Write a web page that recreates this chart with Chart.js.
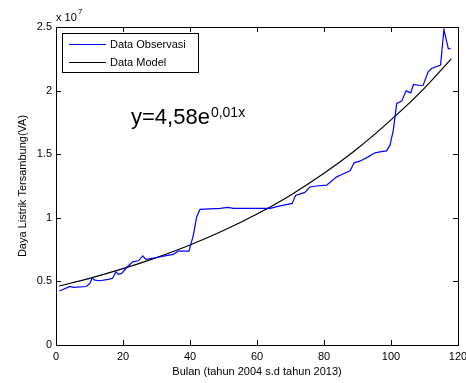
<!DOCTYPE html>
<html>
<head>
<meta charset="utf-8">
<script src="https://cdn.jsdelivr.net/npm/chart.js@4/dist/chart.umd.min.js"></script>
<style>
  html, body { margin: 0; padding: 0; background: #fff; }
  #wrap { width: 466px; height: 383px; }
</style>
</head>
<body>
<div id="wrap"><canvas id="myChart" width="466" height="383"></canvas></div>
<script>
const obsMonth = [1, 4.2, 5.2, 9.1, 10.1, 10.8, 11.6, 13.1, 15.6, 16.9, 17.9, 18.6, 19.6, 21.3, 22.9, 24.6, 25.9, 26.9, 29.6, 32.5,
  35, 36.5, 39.7, 41, 42, 43, 49, 51.3, 53, 63.9, 66.9, 70.5, 71.5, 74.3, 75.8, 77.8, 80.8, 83.8, 85.3, 87.8,
  89, 90.7, 93.2, 95.2, 96.7, 98.7, 99.7, 100.7, 101.7, 103.2, 104.5, 105.9, 106.7, 108.7, 109.6, 111.1, 112.1, 114.8, 115.8, 117.1, 117.8];
const obsValue = [0.424, 0.46, 0.453, 0.46, 0.485, 0.526, 0.51, 0.505, 0.516, 0.524, 0.576, 0.555, 0.563, 0.615, 0.654, 0.662, 0.70, 0.673, 0.686, 0.70,
  0.712, 0.738, 0.738, 0.864, 1.008, 1.066, 1.074, 1.082, 1.074, 1.074, 1.094, 1.113, 1.175, 1.20, 1.242, 1.25, 1.257, 1.322, 1.341, 1.37,
  1.432, 1.445, 1.479, 1.511, 1.518, 1.526, 1.571, 1.689, 1.899, 1.917, 1.998, 1.982, 2.048, 2.04, 2.042, 2.147, 2.174, 2.2, 2.48, 2.33, 2.33];

// model curve
const modelMonth = [1, 10, 20, 30, 40, 50, 60, 70, 80, 90, 100, 110, 118];
const modelValue = [0.464, 0.524, 0.60, 0.687, 0.786, 0.90, 1.03, 1.178, 1.35, 1.545, 1.77, 2.02, 2.25];

const xTicks = [0, 20, 40, 60, 80, 100, 120];
const yTicks = [0, 0.5, 1, 1.5, 2, 2.5];

const seriesNames = ["Data Observasi", "Data Model"];
const xTitle = "Bulan (tahun 2004 s.d tahun 2013)";
const yTitle = "Daya Listrik Tersambung(VA)";

const FONT = "'Liberation Sans', Arial, sans-serif";

function toPoints(xs, ys) {
  return xs.map((x, i) => ({ x: x, y: ys[i] }));
}

// box, inward ticks, exponent, legend and equation
const matlabPlugin = {
  id: "matlab",
  afterDraw(chart) {
    const ctx = chart.ctx;
    const a = chart.chartArea;
    const xs = chart.scales.x;
    const ys = chart.scales.y;
    ctx.save();
    ctx.strokeStyle = "#000";
    ctx.lineWidth = 1;
    ctx.strokeRect(Math.round(a.left) + 0.5, Math.round(a.top) + 0.5, Math.round(a.right - a.left), Math.round(a.bottom - a.top));

    ctx.beginPath();
    xTicks.forEach(v => {
      const px = Math.round(xs.getPixelForValue(v)) + 0.5;
      ctx.moveTo(px, a.bottom); ctx.lineTo(px, a.bottom - 5);
      ctx.moveTo(px, a.top); ctx.lineTo(px, a.top + 5);
    });
    yTicks.forEach(v => {
      const py = Math.round(ys.getPixelForValue(v)) + 0.5;
      ctx.moveTo(a.left, py); ctx.lineTo(a.left + 5, py);
      ctx.moveTo(a.right, py); ctx.lineTo(a.right - 5, py);
    });
    ctx.stroke();

    // x 10^7
    ctx.fillStyle = "#000";
    ctx.textBaseline = "alphabetic";
    ctx.textAlign = "left";
    ctx.font = "11px " + FONT;
    ctx.fillText("x 10", a.left, 21);
    ctx.font = "8px " + FONT;
    ctx.fillText("7", a.left + 22, 14);

    // legend
    const lx = 62, ly = 33, lw = 136, lh = 39;
    ctx.fillStyle = "#fff";
    ctx.fillRect(lx, ly, lw, lh);
    ctx.strokeRect(lx + 0.5, ly + 0.5, lw, lh);
    const colors = ["#0000ff", "#000000"];
    seriesNames.forEach((name, i) => {
      const yy = ly + 11.5 + i * 18;
      ctx.strokeStyle = colors[i];
      ctx.beginPath();
      ctx.moveTo(lx + 7, yy); ctx.lineTo(lx + 44, yy);
      ctx.stroke();
      ctx.fillStyle = "#000";
      ctx.font = "11px " + FONT;
      ctx.textBaseline = "middle";
      ctx.fillText(name, lx + 48, yy);
    });

    // equation
    ctx.textBaseline = "alphabetic";
    ctx.font = "22px " + FONT;
    ctx.fillText("y=4,58e", 131, 124);
    const w = ctx.measureText("y=4,58e").width;
    ctx.font = "14px " + FONT;
    ctx.fillText("0,01x", 131 + w + 1, 117);
    ctx.restore();
  }
};

document.addEventListener("DOMContentLoaded", function () {
  const ctx = document.getElementById("myChart").getContext("2d");
  new Chart(ctx, {
    type: "line",
    data: {
      datasets: [
        {
          label: seriesNames[0],
          data: toPoints(obsMonth, obsValue),
          borderColor: "#0000ff",
          backgroundColor: "#0000ff",
          borderWidth: 1.2,
          pointRadius: 0,
          tension: 0,
          fill: false
        },
        {
          label: seriesNames[1],
          data: toPoints(modelMonth, modelValue),
          borderColor: "#000000",
          backgroundColor: "#000000",
          borderWidth: 1.2,
          pointRadius: 0,
          cubicInterpolationMode: "monotone",
          fill: false
        }
      ]
    },
    options: {
      responsive: false,
      animation: false,
      events: [],
      layout: { padding: { top: 27, right: 8, left: 0, bottom: 0 } },
      plugins: {
        legend: { display: false },
        tooltip: { enabled: false }
      },
      scales: {
        x: {
          type: "linear",
          min: 0,
          max: 120,
          afterBuildTicks: s => { s.ticks = xTicks.map(v => ({ value: v })); },
          afterFit: s => { s.height = 38; s.paddingLeft = 0; s.paddingRight = 0; },
          grid: { display: false, drawTicks: false },
          border: { display: false },
          ticks: { color: "#000", font: { family: FONT, size: 11 }, padding: 5, maxRotation: 0, autoSkip: false },
          title: { display: true, text: xTitle, color: "#000", font: { family: FONT, size: 11 }, padding: { top: 0, bottom: 4 } }
        },
        y: {
          min: 0,
          max: 2.5,
          afterBuildTicks: s => { s.ticks = yTicks.map(v => ({ value: v })); },
          afterFit: s => { s.width = 56; s.paddingTop = 0; s.paddingBottom = 0; },
          grid: { display: false, drawTicks: false },
          border: { display: false },
          ticks: { color: "#000", font: { family: FONT, size: 11 }, padding: 4, callback: v => String(v) },
          title: { display: true, text: yTitle, color: "#000", font: { family: FONT, size: 11 }, padding: { top: 16, bottom: 0 } }
        }
      }
    },
    plugins: [matlabPlugin]
  });
});
</script>
</body>
</html>
